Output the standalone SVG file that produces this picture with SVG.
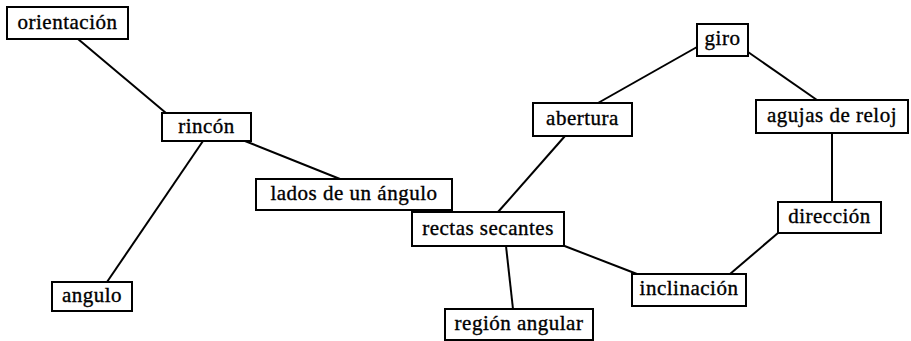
<svg xmlns="http://www.w3.org/2000/svg" width="911" height="341" viewBox="0 0 911 341">
<style>
.box{fill:#fff;stroke:#000;stroke-width:2}
.lbl{font-family:"Liberation Serif","Times New Roman",serif;font-size:21px;fill:#000;stroke:#000;stroke-width:0.35px;text-anchor:middle;letter-spacing:0.5px}
.edge{stroke:#000;stroke-width:2;fill:none}
</style>
<rect width="911" height="341" fill="#fff"/>
<g id="connectors">
<line class="edge" x1="78" y1="39" x2="166" y2="113"/>
<line class="edge" x1="245" y1="141" x2="340" y2="179"/>
<line class="edge" x1="203" y1="141" x2="107" y2="282"/>
<line class="edge" x1="415" y1="210" x2="433" y2="212"/>
<line class="edge" x1="697" y1="47" x2="598" y2="103"/>
<line class="edge" x1="748" y1="52" x2="817" y2="100"/>
<line class="edge" x1="565" y1="136" x2="498" y2="212"/>
<line class="edge" x1="832" y1="133" x2="832" y2="202"/>
<line class="edge" x1="562" y1="245" x2="637" y2="274"/>
<line class="edge" x1="730" y1="274" x2="778" y2="233"/>
<line class="edge" x1="506" y1="246" x2="513" y2="309"/>
</g>
<g id="orientacion"><rect class="box" x="7" y="7" width="121" height="32"/><text class="lbl" x="67.5" y="29">orientación</text></g>
<g id="rincon"><rect class="box" x="162" y="113" width="89" height="28"/><text class="lbl" x="206.5" y="133">rincón</text></g>
<g id="lados"><rect class="box" x="256" y="179" width="196" height="31"/><text class="lbl" x="354" y="200">lados de un ángulo</text></g>
<g id="angulo"><rect class="box" x="52" y="282" width="80" height="29"/><text class="lbl" x="92" y="302">angulo</text></g>
<g id="rectas"><rect class="box" x="412" y="212" width="152" height="34"/><text class="lbl" x="488" y="235">rectas secantes</text></g>
<g id="abertura"><rect class="box" x="533" y="103" width="99" height="33"/><text class="lbl" x="582.5" y="125">abertura</text></g>
<g id="giro"><rect class="box" x="697" y="24" width="51" height="32"/><text class="lbl" x="722.5" y="45">giro</text></g>
<g id="agujas"><rect class="box" x="756" y="100" width="152" height="33"/><text class="lbl" x="832" y="122">agujas de reloj</text></g>
<g id="direccion"><rect class="box" x="778" y="202" width="103" height="31"/><text class="lbl" x="829.5" y="223">dirección</text></g>
<g id="inclinacion"><rect class="box" x="632" y="274" width="114" height="32"/><text class="lbl" x="689" y="295">inclinación</text></g>
<g id="region"><rect class="box" x="445" y="309" width="148" height="31"/><text class="lbl" x="519" y="330">región angular</text></g>
</svg>
